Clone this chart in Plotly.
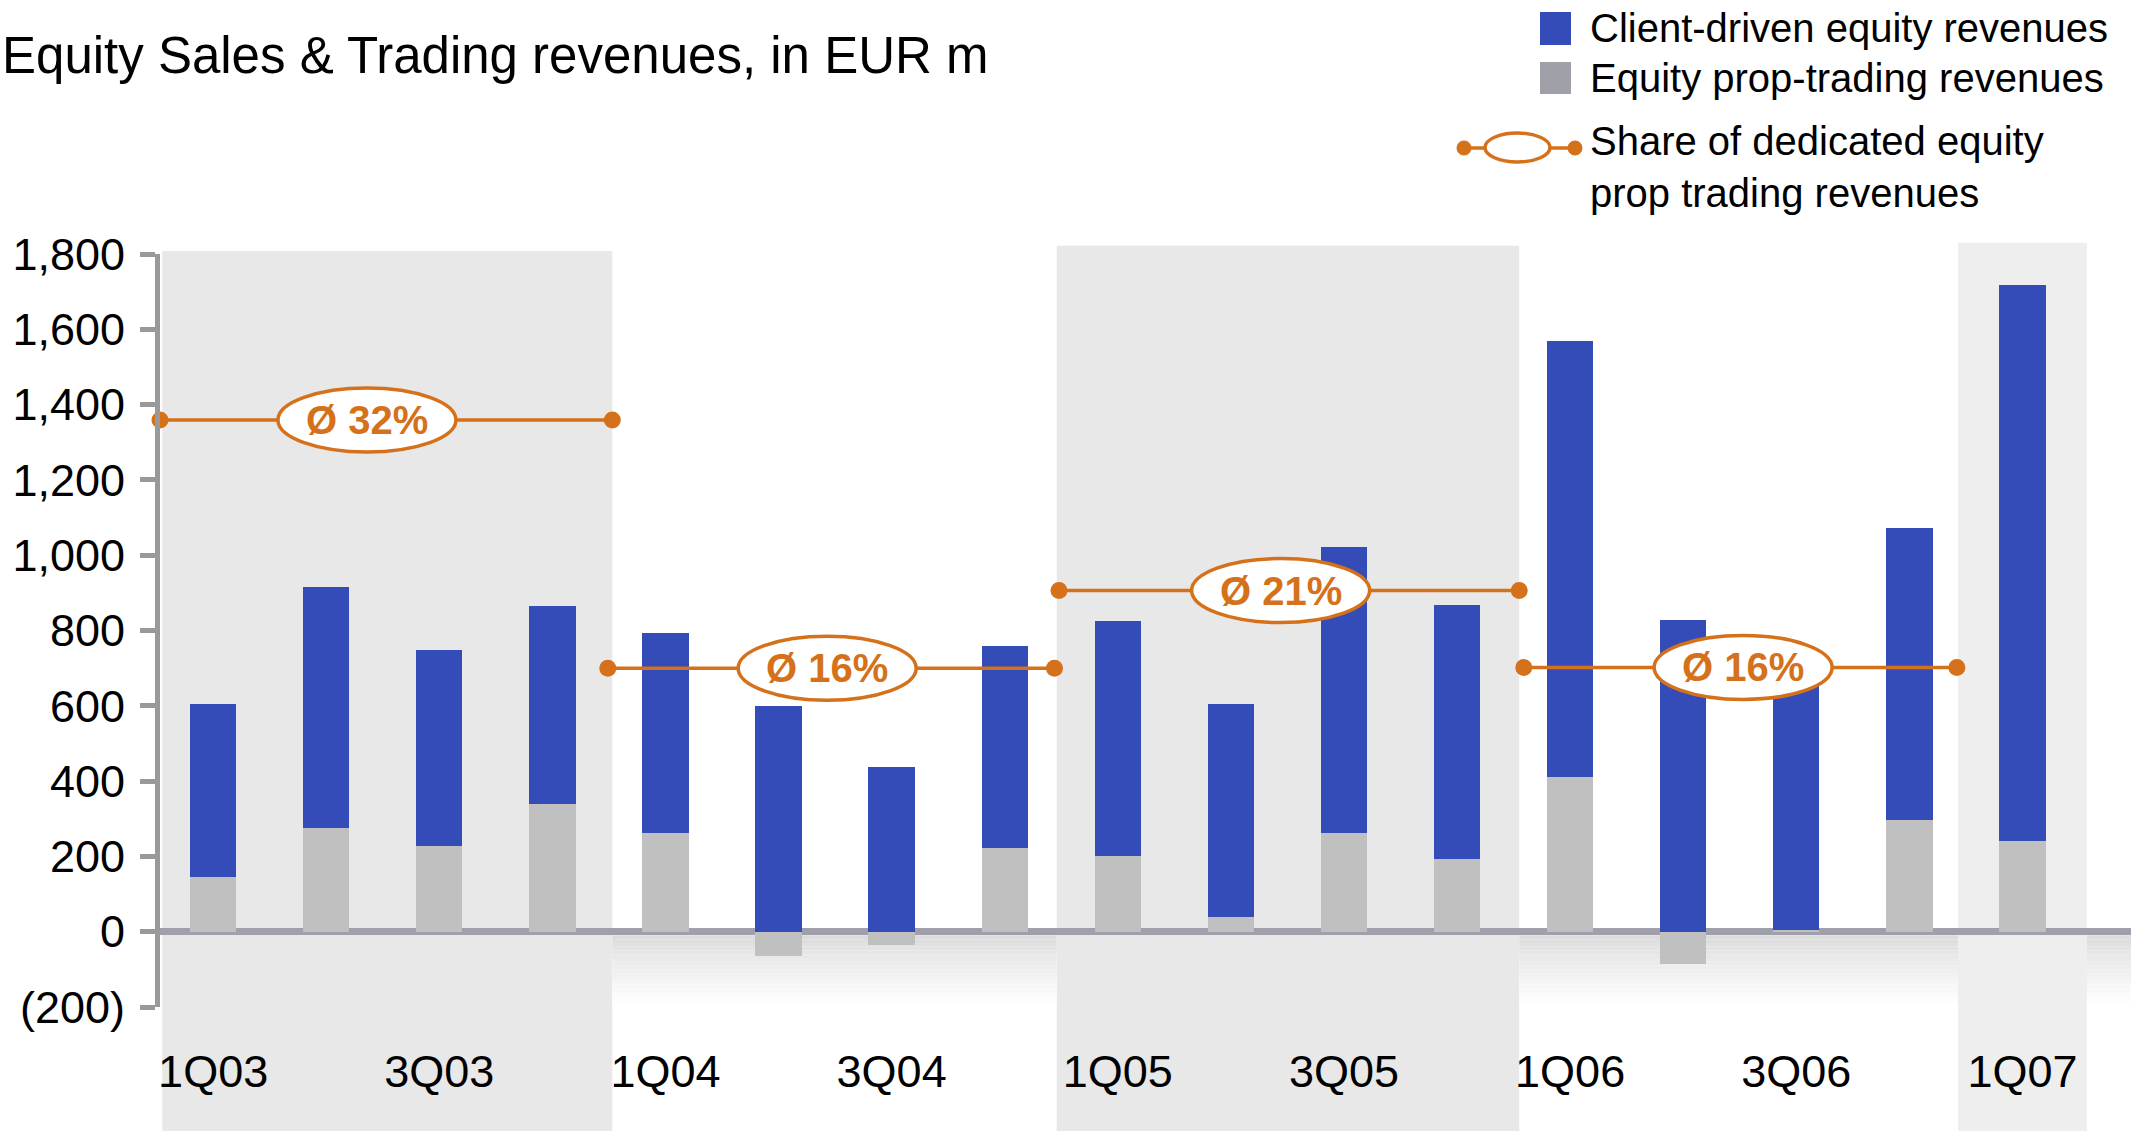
import plotly.graph_objects as go

# Quarterly equity sales & trading revenues, EUR m
quarters = ["1Q03", "2Q03", "3Q03", "4Q03",
            "1Q04", "2Q04", "3Q04", "4Q04",
            "1Q05", "2Q05", "3Q05", "4Q05",
            "1Q06", "2Q06", "3Q06", "4Q06",
            "1Q07"]
client_driven = [459, 640, 521, 524,
                 531, 599, 437, 536,
                 625, 564, 759, 673,
                 1156, 827, 686, 775,
                 1477]
prop_trading = [145, 275, 228, 340,
                263, -64, -35, 223,
                200, 40, 263, 194,
                412, -85, 4, 298,
                240]

# Average share of dedicated equity prop trading revenues per year
share_years = ["2003", "2004", "2005", "2006"]
share_avg = [32, 16, 21, 16]

y_tickvals = [-200, 0, 200, 400, 600, 800, 1000, 1200, 1400, 1600, 1800]
y_ticktext = ["(200)", "0", "200", "400", "600", "800", "1,000", "1,200", "1,400", "1,600", "1,800"]

BLUE = "#334CB8"
GREY = "#C0C0C0"
ORANGE = "#D4711A"
FONT = "Liberation Sans, Arial, sans-serif"

W, H = 2131, 1131
ML, MT, MR, MB = 160, 254, 0, 124
PW, PH = W - ML - MR, H - MT - MB


def px(x):
    return (x - ML) / PW


def py(y):
    return (MT + PH - y) / PH


pos = list(range(len(quarters)))

fig = go.Figure()
fig.add_trace(go.Bar(x=pos, y=prop_trading, width=0.41, marker=dict(color=GREY, line=dict(width=0)),
                     name="Equity prop-trading revenues", hoverinfo="skip"))
fig.add_trace(go.Bar(x=pos, y=client_driven, width=0.41, marker=dict(color=BLUE, line=dict(width=0)),
                     name="Client-driven equity revenues", hoverinfo="skip"))

# yearly spans (category units) used for share lines and badges
year_spans = [(-0.47, 3.53), (3.49, 7.44), (7.48, 11.55), (11.59, 15.42)]
line_levels = [1359, 700, 906, 702]
badge_x = [1.36, 5.43, 9.44, 13.53]

shapes = []
# shaded year bands
bands = [(-0.45, 3.53, 1.004, "#E8E8E8"), (7.46, 11.55, 1.011, "#E8E8E8"), (15.43, 16.57, 1.015, "#EEEEEE")]
for x0, x1, top, col in bands:
    shapes.append(dict(type="rect", xref="x", yref="paper", x0=x0, x1=x1, y0=-0.2, y1=top,
                       fillcolor=col, line=dict(width=0), layer="below"))

# soft shadow under the zero line in the unshaded years
shadow_spans = [(3.53, 7.46), (11.55, 15.43), (16.57, 17.2)]
steps = 20
for x0, x1 in shadow_spans:
    for k in range(steps):
        t = k / (steps - 1)
        v = int(round(216 + (255 - 216) * (t ** 0.8)))
        shapes.append(dict(type="rect", xref="x", yref="y", x0=x0, x1=x1,
                           y0=-k * 10, y1=-(k + 1) * 10,
                           fillcolor=f"rgb({v},{v},{v})", line=dict(width=0), layer="below"))

annotations = []
for i, (span, lvl) in enumerate(zip(year_spans, line_levels)):
    fig.add_trace(go.Scatter(x=[span[0], span[1]], y=[lvl, lvl], mode="lines+markers",
                             line=dict(color=ORANGE, width=3.5),
                             marker=dict(color=ORANGE, size=17), cliponaxis=False,
                             showlegend=False, hoverinfo="skip"))
    shapes.append(dict(type="circle", xref="x", yref="y", xsizemode="pixel", ysizemode="pixel",
                       xanchor=badge_x[i], yanchor=lvl, x0=-89, x1=89, y0=-32, y1=32,
                       fillcolor="white", line=dict(color=ORANGE, width=3.5), layer="above"))
    annotations.append(dict(x=badge_x[i], y=lvl, xref="x", yref="y", showarrow=False,
                            text=f"<b>Ø {share_avg[i]}%</b>",
                            font=dict(family=FONT, size=40, color=ORANGE),
                            xanchor="center", yanchor="middle"))

# title
annotations.append(dict(x=px(0), y=py(55), xref="paper", yref="paper", showarrow=False,
                        text="Equity Sales & Trading revenues, in EUR m",
                        font=dict(family=FONT, size=51, color="black"),
                        xanchor="left", yanchor="middle"))

# legend
shapes.append(dict(type="rect", xref="paper", yref="paper", x0=px(1540), x1=px(1571), y0=py(45), y1=py(12),
                   fillcolor=BLUE, line=dict(width=0)))
shapes.append(dict(type="rect", xref="paper", yref="paper", x0=px(1540), x1=px(1571), y0=py(94), y1=py(62),
                   fillcolor="#A0A0A8", line=dict(width=0)))
shapes.append(dict(type="line", xref="paper", yref="paper", x0=px(1464), x1=px(1575), y0=py(148), y1=py(148),
                   line=dict(color=ORANGE, width=3.5)))
for cx in (1464, 1575):
    shapes.append(dict(type="circle", xref="paper", yref="paper", x0=px(cx - 7.5), x1=px(cx + 7.5),
                       y0=py(148 + 7.5), y1=py(148 - 7.5), fillcolor=ORANGE, line=dict(width=0)))
shapes.append(dict(type="circle", xref="paper", yref="paper", x0=px(1485), x1=px(1550),
                   y0=py(162), y1=py(133), fillcolor="white", line=dict(color=ORANGE, width=3.5)))

legend_font = dict(family=FONT, size=40, color="black")
annotations.append(dict(x=px(1588), y=py(28), xref="paper", yref="paper", showarrow=False,
                        text="Client-driven equity revenues", font=legend_font, xanchor="left", yanchor="middle"))
annotations.append(dict(x=px(1588), y=py(78), xref="paper", yref="paper", showarrow=False,
                        text="Equity prop-trading revenues", font=legend_font, xanchor="left", yanchor="middle"))
annotations.append(dict(x=px(1588), y=py(167), xref="paper", yref="paper", showarrow=False,
                        text="Share of dedicated equity<br>prop trading revenues", font=legend_font,
                        xanchor="left", yanchor="middle", align="left"))

fig.update_layout(
    width=W, height=H,
    margin=dict(l=ML, r=MR, t=MT, b=MB, pad=0),
    paper_bgcolor="white", plot_bgcolor="rgba(0,0,0,0)",
    barmode="relative", bargap=0,
    showlegend=False,
    shapes=shapes, annotations=annotations,
    font=dict(family=FONT, color="black"),
    xaxis=dict(range=[-0.47, 16.96], showgrid=False, zeroline=False, showline=False, ticks="",
               tickvals=pos[::2], ticktext=quarters[::2],
               tickfont=dict(family=FONT, size=45, color="black"), ticklabelstandoff=34),
    yaxis=dict(range=[-200, 1800], showgrid=False, zeroline=True, zerolinecolor="#A0A0AC", zerolinewidth=7,
               showline=True, linecolor="#999999", linewidth=5,
               ticks="outside", ticklen=15, tickwidth=5, tickcolor="#999999",
               tickvals=y_tickvals, ticktext=y_ticktext, ticklabelstandoff=6,
               tickfont=dict(family=FONT, size=45, color="black")),
)

fig.write_html("out.html")
